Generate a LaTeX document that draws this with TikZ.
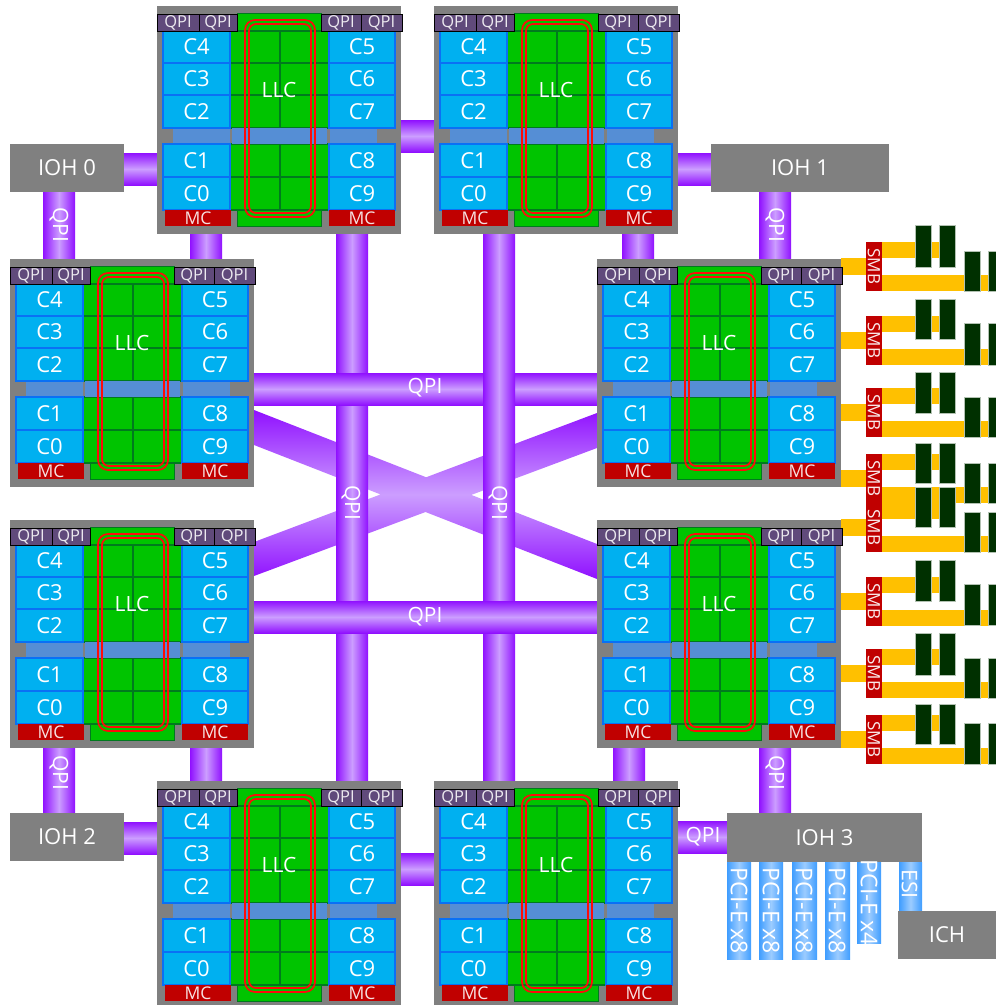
\documentclass[tikz,border=0pt]{standalone}
\usepackage{fontspec}
\setmainfont{Open Sans}
\usetikzlibrary{backgrounds}
\definecolor{linkE}{HTML}{9010FF}
\definecolor{linkC}{HTML}{CC9EFF}
\definecolor{pciE}{HTML}{3F9DFF}
\definecolor{pciC}{HTML}{9CCCFF}
\definecolor{hostgray}{HTML}{808080}
\definecolor{corefill}{HTML}{00B0F0}
\definecolor{coreline}{HTML}{0A70F5}
\definecolor{llcfill}{HTML}{00C400}
\definecolor{llcline}{HTML}{007A1E}
\definecolor{bandblue}{HTML}{558ED5}
\definecolor{qpibox}{HTML}{604A7B}
\definecolor{mcred}{HTML}{C00000}
\definecolor{dimmgreen}{HTML}{003000}
\definecolor{ddryellow}{HTML}{FFC000}
\definecolor{ringred}{HTML}{FF0A0A}
\tikzset{
  x=1pt,y=-1pt,
  every node/.style={inner sep=0,outer sep=0,text=white},
  fs/.style={font=\fontsize{#1}{#1}\selectfont},
  blockbox/.style={fill=hostgray,fs=22},
  core/.style={fill=corefill,draw=coreline,line width=1.4pt,fs=22},
  cell/.style={fill=llcfill,draw=llcline,line width=1.2pt},
  llcback/.style={fill=llcfill,draw=llcline,line width=0.8pt},
  band/.style={fill=bandblue},
  qpip/.style={fill=qpibox,draw=black,line width=0.8pt,fs=16.5,text=white!88!qpibox},
  mcbox/.style={fill=mcred,fs=17.5,text=white!88!mcred},
  smbbox/.style={fill=mcred},
  smbtext/.style={rotate=-90,fs=17,text=white!92!mcred},
  dimm/.style={fill=dimmgreen,draw=white!70!dimmgreen,line width=0.3pt},
  ddr/.style={fill=ddryellow},
  ring/.style={draw=ringred,line width=1.7pt,rounded corners=#1},
  linkh/.style={top color=linkE,bottom color=linkE,middle color=linkC},
  linkv/.style={left color=linkE,right color=linkE,middle color=linkC},
  pcibar/.style={left color=pciE,right color=pciE,middle color=pciC},
  lbl/.style={fs=21},
  vlbl/.style={fs=21,rotate=-90},
  pcilbl/.style={fs=23,rotate=-90},
}
% rectangular node from two corners: style, name, x1, y1, x2, y2, text
\newcommand\rbox[7]{\node[#1,anchor=north west,minimum width={(#5-#3)*1pt},minimum height={(#6-#4)*1pt}] (#2) at (#3,#4) {#7};}
\newcommand\cpu[3]{%
 \begin{scope}[shift={(#2,#3)}]
  \rbox{fill=hostgray}{#1}{0}{0}{244}{228}{}
  \rbox{llcback}{#1-llc}{80}{7}{164}{220}{}
  \foreach \ya/\yb/\r in {25/57/a,57/89/b,89/122/c,138/171/d,171/204/e}{
    \rbox{cell}{#1-l\r}{73}{\ya}{123}{\yb}{}
    \rbox{cell}{#1-r\r}{123}{\ya}{172}{\yb}{}
  }
  \rbox{band}{#1-bl}{16}{122}{73}{138}{}
  \rbox{band}{#1-bm}{75}{122}{170}{138}{}
  \rbox{band}{#1-br}{173}{122}{220}{138}{}
  \rbox{core}{#1-c4}{6}{25}{73}{57}{C4}
  \rbox{core}{#1-c3}{6}{57}{73}{89}{C3}
  \rbox{core}{#1-c2}{6}{89}{73}{122}{C2}
  \rbox{core}{#1-c1}{6}{138}{73}{171}{C1}
  \rbox{core}{#1-c0}{6}{171}{73}{204}{C0}
  \rbox{core}{#1-c5}{172}{25}{238}{57}{C5}
  \rbox{core}{#1-c6}{172}{57}{238}{89}{C6}
  \rbox{core}{#1-c7}{172}{89}{238}{122}{C7}
  \rbox{core}{#1-c8}{172}{138}{238}{171}{C8}
  \rbox{core}{#1-c9}{172}{171}{238}{204}{C9}
  \rbox{mcbox}{#1-mcl}{8}{204}{74}{220}{MC}
  \rbox{mcbox}{#1-mcr}{172}{204}{238}{220}{MC}
  \rbox{qpip}{#1-q1}{0}{8}{42}{25}{QPI}
  \rbox{qpip}{#1-q2}{42}{8}{80}{25}{QPI}
  \rbox{qpip}{#1-q3}{164}{8}{204}{25}{QPI}
  \rbox{qpip}{#1-q4}{204}{8}{245}{25}{QPI}
  \draw[ring=10pt] (88,14) rectangle (158,211);
  \draw[ring=7pt] (92,18) rectangle (154,207);
  \node[fs=21] (#1-llctxt) at (122,84) {LLC};
 \end{scope}}
% links, spanning between named nodes
\newcommand\vlink[4]{\path[linkv] (#1,0 |- #3.south) rectangle (#2,0 |- #4.north);}
\newcommand\hlink[4]{\path[linkh] (#3.east |- 0,#1) rectangle (#4.west |- 0,#2);}
% memory group: id, source cpu, SMB top, upper dimm top, upper dimm bottom, lower dimm top, lower dimm bottom
\newcommand\memgroup[7]{%
  \rbox{smbbox}{#1}{866}{#3}{882}{#3+49}{}
  \node[smbtext] (#1-t) at (#1.center) {SMB};
  \rbox{dimm}{#1-u1}{915}{#4}{931}{#5}{}
  \rbox{dimm}{#1-u2}{939}{#4}{955}{#5}{}
  \rbox{dimm}{#1-d1}{964}{#6}{980}{#7}{}
  \rbox{dimm}{#1-d2}{988}{#6}{1004}{#7}{}
  \begin{pgfonlayer}{background}
    \path[ddr] (#2.east |- 0,#3+16) rectangle (#1.west |- 0,#3+32.5);
    \path[ddr] (#1.east |- 0,#3) rectangle (#1-u2.west |- 0,#3+16);
    \path[ddr] (#1.east |- 0,#3+32.5) rectangle (#1-d2.center |- 0,#3+49);
  \end{pgfonlayer}}
\begin{document}
\begin{tikzpicture}
\useasboundingbox (0,0) rectangle (996,1005);
\cpu{a}{157}{6}
\cpu{b}{434}{6}
\cpu{c}{10}{259}
\cpu{d}{597}{259}
\cpu{e}{10}{520}
\cpu{f}{597}{520}
\cpu{g}{157}{781}
\cpu{h}{434}{781}
\rbox{blockbox}{ioh0}{10}{144}{124}{192}{IOH 0}
\rbox{blockbox}{ioh1}{711}{144}{889}{192}{IOH 1}
\rbox{blockbox}{ioh2}{10}{813}{124}{861}{IOH 2}
\rbox{blockbox}{ioh3}{727}{813}{922}{862}{IOH 3}
\rbox{blockbox}{ich}{898}{911}{996}{959}{ICH}
% PCI-E bars
\begin{pgfonlayer}{background}
  \coordinate (p1) at (739,959);
  \coordinate (p2) at (771,959);
  \coordinate (p3) at (804.5,959);
  \coordinate (p4) at (837.5,959);
  \coordinate (p5) at (869,943);
  \path[pcibar] (727,0 |- ioh3.south) rectangle (751,0 |- p1);
  \path[pcibar] (759,0 |- ioh3.south) rectangle (783,0 |- p2);
  \path[pcibar] (792,0 |- ioh3.south) rectangle (817,0 |- p3);
  \path[pcibar] (825,0 |- ioh3.south) rectangle (850,0 |- p4);
  \path[pcibar] (857,0 |- ioh3.south) rectangle (881,0 |- p5);
  \path[pcibar] (899,0 |- ioh3.south) rectangle (922,0 |- ich.north);
  % crossing links
  \path[top color=linkE,bottom color=linkE,middle color=linkC]
    (d.west |- 0,544) -- (d.west |- 0,579) -- (c.east |- 0,445) -- (c.east |- 0,410) -- cycle
    (d.west |- 0,413) -- (d.west |- 0,448) -- (c.east |- 0,576) -- (c.east |- 0,542) -- cycle;
  % long links and the rest
  \vlink{336}{368}{a}{g}
  \hlink{373}{405}{c}{d}
  \vlink{483}{515}{b}{h}
  \hlink{601}{633}{e}{f}
  \vlink{43}{75}{ioh0}{c}
  \vlink{190}{222}{a}{c}
  \vlink{622}{654}{b}{d}
  \vlink{759}{791}{ioh1}{d}
  \vlink{43}{75}{e}{ioh2}
  \vlink{190}{222}{e}{g}
  \vlink{613}{645}{f}{h}
  \vlink{759}{791}{f}{ioh3}
  \hlink{153}{185}{ioh0}{a}
  \hlink{120}{152}{a}{b}
  \hlink{153}{185}{b}{ioh1}
  \hlink{822}{854}{ioh2}{g}
  \hlink{853}{885}{g}{h}
  \hlink{821}{853}{h}{ioh3}
\end{pgfonlayer}
% link labels
\node[vlbl] (t1) at (59,225) {QPI};
\node[vlbl] (t2) at (775,225) {QPI};
\node[vlbl] (t3) at (59,773) {QPI};
\node[vlbl] (t4) at (775,773) {QPI};
\node[vlbl] (t5) at (351,503) {QPI};
\node[vlbl] (t6) at (498,503) {QPI};
\node[lbl] (t7) at (425,388) {QPI};
\node[lbl] (t8) at (425,617) {QPI};
\node[lbl] (t9) at (703,837) {QPI};
\node[pcilbl] (x1) at (739,911) {PCI-E x8};
\node[pcilbl] (x2) at (771,911) {PCI-E x8};
\node[pcilbl] (x3) at (804,911) {PCI-E x8};
\node[pcilbl] (x4) at (837,911) {PCI-E x8};
\node[pcilbl] (x5) at (869,903) {PCI-E x4};
\node[pcilbl,fs=21.5] (x6) at (909.5,884) {ESI};
% memory
\memgroup{m1}{d}{242}{225}{267}{251}{291}
\memgroup{m2}{d}{316}{299}{339}{323}{365}
\memgroup{m3}{d}{388}{372}{413}{397}{437}
\memgroup{m4}{d}{454}{443}{483}{463}{503}
\memgroup{m5}{f}{503}{487}{527}{512}{552}
\memgroup{m6}{f}{577}{560}{601}{584}{625}
\memgroup{m7}{f}{649}{633}{675}{658}{698}
\memgroup{m8}{f}{715}{704}{744}{723}{764}
\end{tikzpicture}
\end{document}
